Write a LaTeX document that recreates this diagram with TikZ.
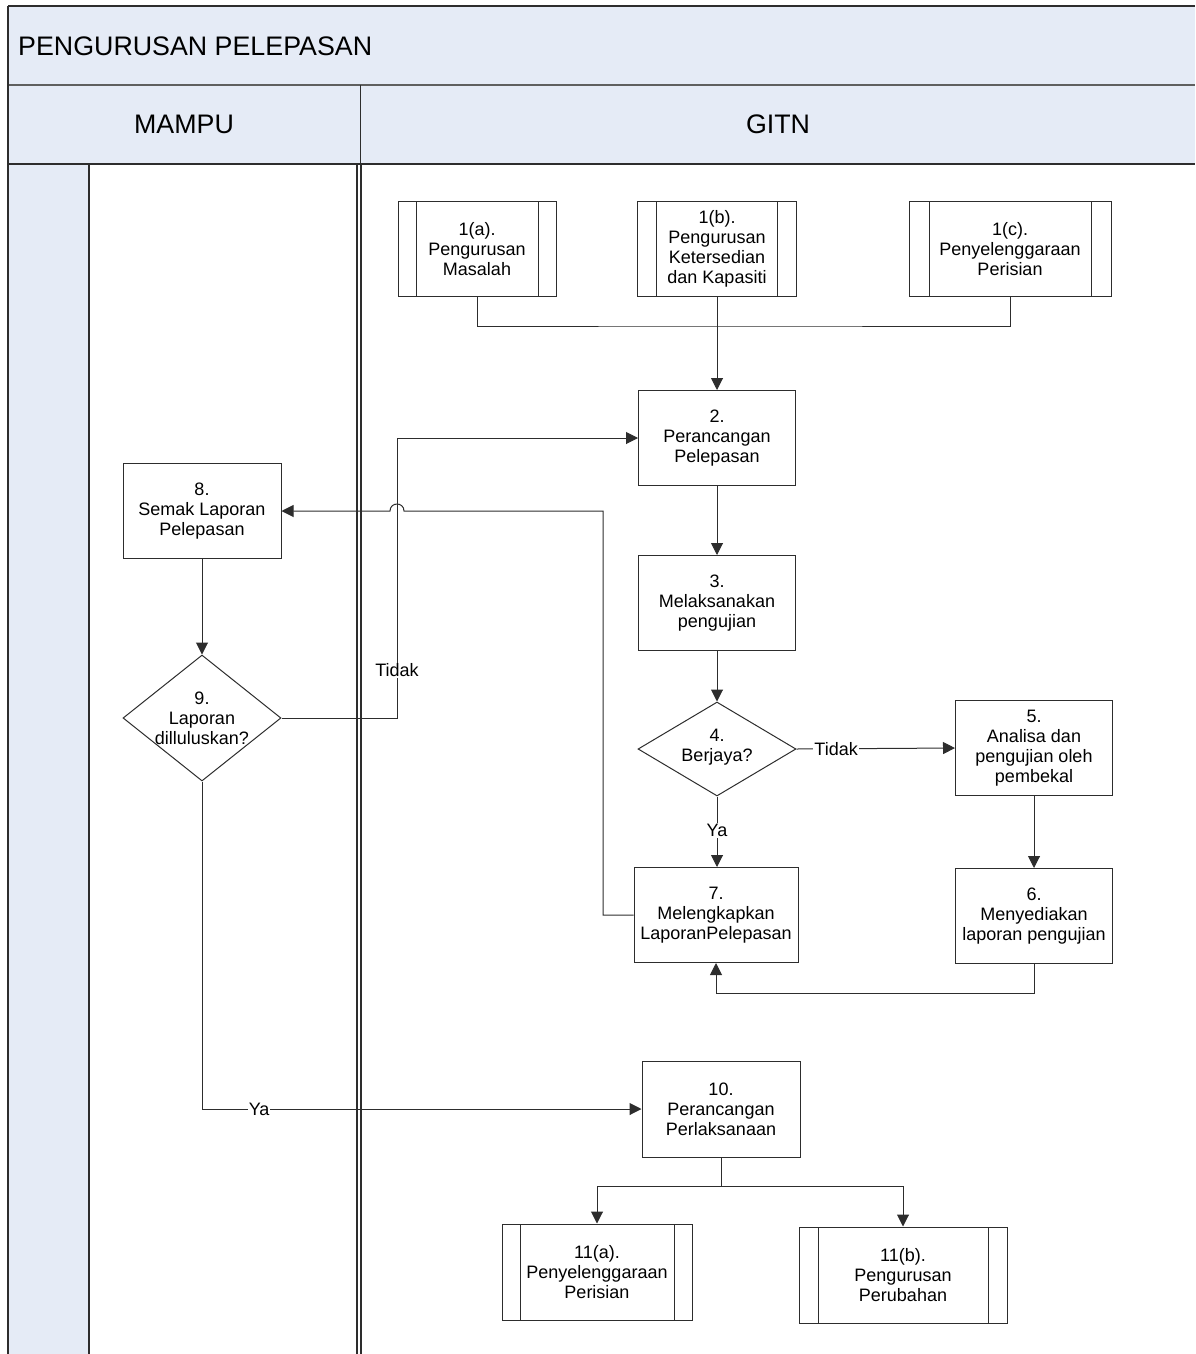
\documentclass[tikz,border=0pt]{standalone}
\usepackage{fontspec}
\setmainfont{Liberation Sans}
\usetikzlibrary{arrows.meta,shapes.geometric}
\definecolor{laneblue}{RGB}{229,235,246}
\definecolor{edgegrey}{RGB}{45,45,45}
\definecolor{bandgrey}{RGB}{95,95,95}

\begin{document}
\begin{tikzpicture}[x=1pt,y=-1pt,
  every node/.style={font=\fontsize{18}{20}\selectfont},
  headtext/.style={font=\fontsize{26.8}{30}\selectfont, inner sep=0pt},
  frame/.style={draw=edgegrey, line width=1.2pt},
  box/.style={draw=edgegrey, line width=1pt, fill=white, rectangle,
    align=center, inner sep=0pt, minimum width=157pt, minimum height=95pt},
  subproc/.style={box, path picture={
    \draw[edgegrey, line width=1pt]
      ([xshift=#1]path picture bounding box.north west) --
      ([xshift=#1]path picture bounding box.south west);
    \draw[edgegrey, line width=1pt]
      ([xshift=-#1]path picture bounding box.north east) --
      ([xshift=-#1]path picture bounding box.south east);}},
  subproc/.default=19pt,
  decision/.style={draw=edgegrey, line width=1pt, fill=white, diamond,
    inner sep=0pt, minimum width=158pt, minimum height=94pt},
  dectext/.style={align=center, inner sep=0pt},
  link/.style={draw=edgegrey, line width=1pt},
  arr/.style={link, -{Triangle[length=12pt,width=12pt]}},
  lbl/.style={fill=white, inner sep=1pt}
]
\useasboundingbox (0,0) rectangle (1195,1354);

% swimlane background
\fill[laneblue] (8,6) rectangle (1195,164);
\fill[laneblue] (8,164) rectangle (89,1354);
\draw[frame] (8,6) -- (1195,6);
\draw[bandgrey, line width=2.4pt] (8,85) -- (1195,85);
\draw[frame] (8,164) -- (1195,164);
\draw[frame] (8,6) -- (8,1354);
\draw[frame, line width=1pt] (360,85) -- (360,164);
\draw[frame] (89,164) -- (89,1354);
\draw[frame] (357,164) -- (357,1354);
\draw[frame] (361,164) -- (361,1354);

\node[headtext, anchor=west] (title) at (18,46) {PENGURUSAN PELEPASAN};
\node[headtext] (laneA) at (184,124) {MAMPU};
\node[headtext] (laneB) at (778,124) {GITN};

% process steps
\node[subproc=18pt, minimum width=158pt] (n1a) at (477,249) {1(a).\\Pengurusan\\Masalah};
\node[subproc, minimum width=159pt] (n1b) at (717,249) {1(b).\\Pengurusan\\Ketersedian\\dan Kapasiti};
\node[subproc=20pt, minimum width=202pt] (n1c) at (1010,249) {1(c).\\Penyelenggaraan\\Perisian};
\node[box] (n2) at (717,438) {2.\\Perancangan\\Pelepasan};
\node[box] (n3) at (717,603) {3.\\Melaksanakan\\pengujian};
\node[decision] (n4) at (717,749) {};
\node[dectext] (n4t) at ([yshift=2pt]n4.center) {4.\\Berjaya?};
\node[box] (n5) at (1034,748) {5.\\Analisa dan\\pengujian oleh\\pembekal};
\node[box] (n6) at (1034,916) {6.\\Menyediakan\\laporan pengujian};
\node[box, minimum width=164pt] (n7) at (716,915) {7.\\Melengkapkan\\LaporanPelepasan};
\node[box, minimum width=158pt] (n8) at (202,511) {8.\\Semak Laporan\\Pelepasan};
\node[decision, minimum height=126pt] (n9) at (202,718) {};
\node[dectext] (n9t) at (n9.center) {9.\\Laporan\\dilluluskan?};
\node[box, minimum width=158pt, minimum height=96pt] (n10) at (721,1109) {10.\\Perancangan\\Perlaksanaan};
\node[subproc=18pt, minimum width=190pt, minimum height=96pt] (n11a) at (597,1272) {11(a).\\Penyelenggaraan\\Perisian};
\node[subproc, minimum width=208pt, minimum height=96pt] (n11b) at (903,1275) {11(b).\\Pengurusan\\Perubahan};

% junction points
\coordinate (merge) at (717,326);
\coordinate (back6) at (1034,993);
\coordinate (turn7) at (603,511);
\coordinate (hopR) at (404,511);
\coordinate (hopL) at (390,511);
\coordinate (turn9) at (397,438);
\coordinate (split) at (721,1186);

% connectors
\draw[link] (n1a.south) |- (merge) -| (n1c.south);
\draw[arr] (n1b.south) -- (n2.north);
\draw[arr] (n2.south) -- (n3.north);
\draw[arr] (n3.south) -- (n4.north);
\draw[arr] (n4.east) -- node[lbl, pos=0.25] {Tidak} (n5.west);
\draw[arr] (n4.south) -- node[lbl, pos=0.48] {Ya} (n7.north -| n4.south);
\draw[arr] (n5.south) -- (n6.north);
\draw[arr] (n6.south) -- (back6) -| (n7.south);
\draw[arr] (n7.west) -| (turn7) -- (hopR)
  .. controls +(0,-9.3) and +(0,-9.3) .. (hopL) -- (n8.east);
\draw[arr] (n8.south) -- (n9.north);
\draw[arr] (n9.east) -| node[lbl, pos=0.585] {Tidak} (turn9) -- (n2.west);
\draw[arr] (n9.south) |- node[lbl, pos=0.565] {Ya} (n10.west);
\draw[arr] (n10.south) -- (split) -| (n11a.north);
\draw[arr] (split) -| (n11b.north);
\end{tikzpicture}
\end{document}
